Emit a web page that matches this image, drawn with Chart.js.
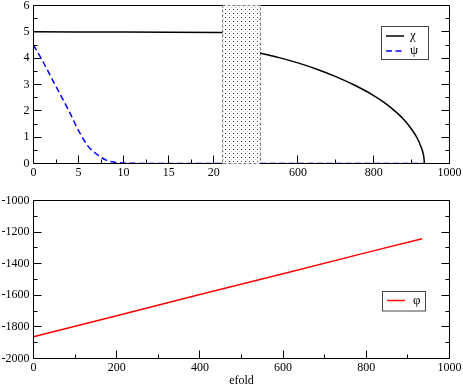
<!DOCTYPE html>
<html><head><meta charset="utf-8">
<script src="https://cdn.jsdelivr.net/npm/chart.js@4/dist/chart.umd.min.js"></script>
<style>
html,body{margin:0;padding:0;background:#fff;overflow:hidden}
#wrap{position:relative;width:463px;height:386px;background:#fff}
canvas{position:absolute;left:0}
</style></head>
<body>
<div id="wrap">
<canvas id="cTop" width="463" height="190" style="top:0"></canvas>
<canvas id="cBot" width="463" height="196" style="top:190px"></canvas>
</div>
<script>
// ---------- data ----------
const chiLeftN  = [0, 5, 10, 15, 21];
const chiLeft   = [5.00, 4.995, 4.99, 4.98, 4.97];
const chiRightN = [500, 550, 600, 650, 700, 750, 800, 830, 860, 880, 900, 915, 925, 930, 932, 934];
const chiRight  = [4.20, 4.02, 3.82, 3.58, 3.30, 2.97, 2.58, 2.29, 1.94, 1.66, 1.30, 0.96, 0.63, 0.41, 0.27, 0];
const psiLeftN  = [0, 1, 2, 3, 4, 5, 6, 7, 8, 9, 10, 11, 12, 21];
const psiLeft   = [4.5, 3.9, 3.25, 2.6, 1.95, 1.25, 0.68, 0.36, 0.14, 0.05, 0.02, 0.01, 0, 0];
const psiRightN = [500, 934];
const psiRight  = [0, 0];
const phiN      = [0, 200, 400, 600, 800, 934];
const phi       = [-1862, -1729, -1595, -1463, -1330, -1242];

const topLeftMajor  = [0, 5, 10, 15, 20];
const topLeftMinor  = [2.5, 7.5, 12.5, 17.5];
const topRightMajor = [600, 800, 1000];
const topRightMinor = [700, 900];
const topYMajor     = [0, 1, 2, 3, 4, 5, 6];
const topYMinor     = [0.5, 1.5, 2.5, 3.5, 4.5, 5.5];
const botXMajor     = [0, 200, 400, 600, 800, 1000];
const botXMinor     = [100, 300, 500, 700, 900];
const botYMajor     = [-2000, -1800, -1600, -1400, -1200, -1000];
const botYMinor     = [-1900, -1700, -1500, -1300, -1100];

// ---------- helpers ----------
const SERIF = '"Liberation Serif", "Times New Roman", "DejaVu Serif", serif';
Chart.defaults.font.family = SERIF;
Chart.defaults.font.size = 12;
Chart.defaults.color = '#000';

const pts = (xs, ys) => xs.map((x, i) => ({x: x, y: ys[i]}));
const setTicks = (major, minor) => s => {
  s.ticks = major.concat(minor).sort((a, b) => a - b).map(v => ({value: v}));
};
const labelIf = major => v => major.includes(v) ? String(v) : '';

function xAxis(min, max, major, minor, h, extra) {
  return Object.assign({
    type: 'linear', position: 'bottom', min: min, max: max,
    afterBuildTicks: setTicks(major, minor),
    ticks: {autoSkip: false, maxRotation: 0, minRotation: 0, padding: 2.5, callback: labelIf(major),
            font: {family: SERIF, size: 12}},
    grid: {display: false, drawTicks: false},
    border: {display: false},
    afterFit: s => { s.height = h; s.paddingLeft = 0; s.paddingRight = 0; }
  }, extra || {});
}
function yAxis(min, max, major, minor) {
  return {
    type: 'linear', position: 'left', min: min, max: max,
    afterBuildTicks: setTicks(major, minor),
    ticks: {autoSkip: false, padding: 4, callback: labelIf(major), font: {family: SERIF, size: 12}},
    grid: {display: false, drawTicks: false},
    border: {display: false},
    afterFit: s => { s.width = 33.5; s.paddingTop = 0; s.paddingBottom = 0; }
  };
}

// ---------- plugins ----------
const gapPlugin = {
  id: 'gapHatch',
  beforeDatasetsDraw(chart, args, o) {
    if (!o || !o.scale) return;
    const g = chart.scales[o.scale], a = chart.chartArea, ctx = chart.ctx;
    const pc = document.createElement('canvas');
    pc.width = 4; pc.height = 4;
    const p = pc.getContext('2d');
    p.fillStyle = '#fff'; p.fillRect(0, 0, 4, 4);
    p.fillStyle = '#444'; p.fillRect(1, 1, 1, 1);
    p.fillStyle = '#c4c4c4'; p.fillRect(3, 3, 1, 1);
    ctx.save();
    ctx.fillStyle = ctx.createPattern(pc, 'repeat');
    ctx.fillRect(g.left, a.top, g.right - g.left, a.bottom - a.top);
    ctx.strokeStyle = '#808080'; ctx.lineWidth = 1; ctx.setLineDash([3, 2]);
    const l = Math.floor(g.left) + 0.5, r = Math.floor(g.right) + 0.5;
    ctx.strokeRect(l, a.top, r - l, a.bottom - a.top);
    ctx.restore();
  }
};

const framePlugin = {
  id: 'frameTicks',
  afterDatasetsDraw(chart, args, o) {
    const ctx = chart.ctx, a = chart.chartArea;
    const snap = v => Math.round(v - 0.5) + 0.5;
    ctx.save();
    ctx.strokeStyle = '#000'; ctx.lineWidth = 1; ctx.setLineDash([]);
    ctx.beginPath();
    ctx.moveTo(a.left, a.top); ctx.lineTo(a.left, a.bottom);
    ctx.moveTo(a.right, a.top); ctx.lineTo(a.right, a.bottom);
    const segs = [];
    if (o.gap) {
      const g = chart.scales[o.gap];
      segs.push([a.left, Math.floor(g.left) + 0.5], [Math.floor(g.right) + 0.5, a.right]);
    } else segs.push([a.left, a.right]);
    segs.forEach(s => {
      ctx.moveTo(s[0], a.top); ctx.lineTo(s[1], a.top);
      ctx.moveTo(s[0], a.bottom); ctx.lineTo(s[1], a.bottom);
    });
    (o.x || []).forEach(def => {
      const s = chart.scales[def.id];
      def.major.forEach(v => { const p = snap(s.getPixelForValue(v)); ctx.moveTo(p, a.bottom); ctx.lineTo(p, a.bottom - 8); });
      def.minor.forEach(v => { const p = snap(s.getPixelForValue(v)); ctx.moveTo(p, a.bottom); ctx.lineTo(p, a.bottom - 4); });
    });
    (o.y || []).forEach(def => {
      const s = chart.scales[def.id];
      def.major.forEach(v => { const p = snap(s.getPixelForValue(v));
        ctx.moveTo(a.left, p); ctx.lineTo(a.left + 8, p); ctx.moveTo(a.right, p); ctx.lineTo(a.right - 8, p); });
      def.minor.forEach(v => { const p = snap(s.getPixelForValue(v));
        ctx.moveTo(a.left, p); ctx.lineTo(a.left + 4, p); ctx.moveTo(a.right, p); ctx.lineTo(a.right - 4, p); });
    });
    ctx.stroke();
    ctx.restore();
  }
};

const boxLegend = {
  id: 'boxLegend',
  afterDraw(chart, args, o) {
    if (!o || o.x === undefined) return;
    const ctx = chart.ctx;
    const items = chart.data.datasets.filter(d => d.legendEntry);
    ctx.save();
    ctx.fillStyle = '#fff'; ctx.fillRect(o.x, o.y, o.w, o.h);
    ctx.strokeStyle = '#444'; ctx.lineWidth = 1;
    ctx.strokeRect(o.x + 0.5, o.y + 0.5, o.w, o.h);
    items.forEach((d, i) => {
      const cy = o.y + o.first + i * o.step;
      ctx.strokeStyle = d.borderColor; ctx.lineWidth = d.borderWidth;
      ctx.setLineDash(d.borderDash || []);
      ctx.beginPath(); ctx.moveTo(o.x + o.lx0, cy); ctx.lineTo(o.x + o.lx1, cy); ctx.stroke();
      ctx.setLineDash([]);
      ctx.fillStyle = '#000'; ctx.font = '13px ' + SERIF;
      ctx.textBaseline = 'middle'; ctx.textAlign = 'left';
      ctx.fillText(d.label, o.x + o.tx, cy);
    });
    ctx.restore();
  }
};

const lineStyle = (color, dash, smooth) => ({
  borderColor: color, backgroundColor: color, borderWidth: 1.5, pointRadius: 0,
  tension: 0, fill: false, borderDash: dash || [], borderJoinStyle: 'round',
  cubicInterpolationMode: smooth ? 'monotone' : 'default'
});

// ---------- top chart ----------
new Chart(document.getElementById('cTop'), {
  type: 'line',
  data: {datasets: [
    Object.assign({label: 'χ', data: pts(chiLeftN, chiLeft), xAxisID: 'xL', yAxisID: 'y', legendEntry: true}, lineStyle('#000')),
    Object.assign({label: 'χ', data: pts(chiRightN, chiRight), xAxisID: 'xR', yAxisID: 'y'}, lineStyle('#000', null, true)),
    Object.assign({label: 'ψ', data: pts(psiLeftN, psiLeft), xAxisID: 'xL', yAxisID: 'y', legendEntry: true}, lineStyle('#0000ff', [6, 3.5], true)),
    Object.assign({label: 'ψ', data: pts(psiRightN, psiRight), xAxisID: 'xR', yAxisID: 'y'}, lineStyle('#0000ff', [6, 3.5]))
  ]},
  options: {
    responsive: false, animation: false, devicePixelRatio: 1,
    layout: {padding: {top: 5.5, right: 13.5, left: 0, bottom: 0}},
    plugins: {
      legend: {display: false}, tooltip: {enabled: false},
      gapHatch: {scale: 'xGap'},
      frameTicks: {gap: 'xGap',
        x: [{id: 'xL', major: topLeftMajor, minor: topLeftMinor}, {id: 'xR', major: topRightMajor, minor: topRightMinor}],
        y: [{id: 'y', major: topYMajor, minor: topYMinor}]},
      boxLegend: {x: 381, y: 26, w: 47, h: 33, first: 10, step: 15, lx0: 5, lx1: 23, tx: 29}
    },
    scales: {
      y: yAxis(0, 6, topYMajor, topYMinor),
      xL: xAxis(0, 21, topLeftMajor, topLeftMinor, 26.5, {stack: 'brk', stackWeight: 189.2}),
      xGap: {type: 'linear', position: 'bottom', stack: 'brk', stackWeight: 37.3, min: 0, max: 1,
             ticks: {display: false}, grid: {display: false, drawTicks: false}, border: {display: false},
             afterFit: s => { s.height = 26.5; s.paddingLeft = 0; s.paddingRight = 0; }},
      xR: xAxis(500, 1000, topRightMajor, topRightMinor, 26.5, {stack: 'brk', stackWeight: 189.5})
    }
  },
  plugins: [gapPlugin, framePlugin, boxLegend]
});

// ---------- bottom chart ----------
new Chart(document.getElementById('cBot'), {
  type: 'line',
  data: {datasets: [
    Object.assign({label: 'φ', data: pts(phiN, phi), xAxisID: 'x', yAxisID: 'y', legendEntry: true}, lineStyle('#ff0000'))
  ]},
  options: {
    responsive: false, animation: false, devicePixelRatio: 1,
    layout: {padding: {top: 10.5, right: 13.5, left: 0, bottom: -2}},
    plugins: {
      legend: {display: false}, tooltip: {enabled: false},
      frameTicks: {x: [{id: 'x', major: botXMajor, minor: botXMinor}], y: [{id: 'y', major: botYMajor, minor: botYMinor}]},
      boxLegend: {x: 382, y: 101, w: 43, h: 19.5, first: 9.5, step: 15, lx0: 5, lx1: 23, tx: 31}
    },
    scales: {
      y: yAxis(-2000, -1000, botYMajor, botYMinor),
      x: xAxis(0, 1000, botXMajor, botXMinor, 29.5, {
        title: {display: true, text: 'efold', padding: {top: 0, bottom: 0}, font: {family: SERIF, size: 12}}
      })
    }
  },
  plugins: [framePlugin, boxLegend]
});
</script>
</body></html>
